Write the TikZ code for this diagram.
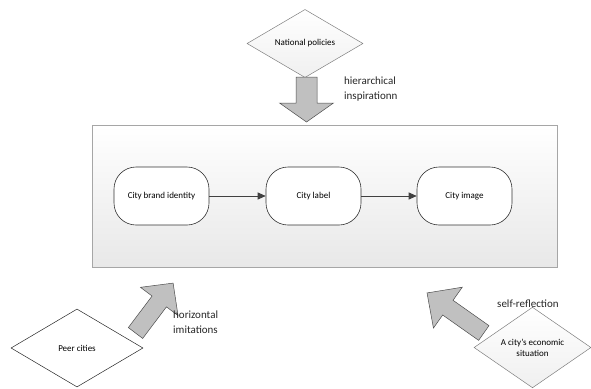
\documentclass[tikz,border=0pt]{standalone}
\usepackage{fontspec}
\setmainfont{Carlito}
\usetikzlibrary{shapes.geometric,arrows.meta}

\definecolor{edgegray}{HTML}{7F7F7F}
\definecolor{arrowfill}{HTML}{C0C0C0}
\definecolor{linkgray}{HTML}{404040}

\tikzset{
  stagebox/.style={draw=black!80, line width=0.6pt, fill=white,
    rounded corners=22pt, minimum width=95pt, minimum height=58pt,
    inner sep=0pt, font=\fontsize{9}{11}\selectfont},
  source/.style={diamond, draw=edgegray, line width=0.5pt,
    top color=white, bottom color=black!6, inner sep=0pt,
    align=center, font=\fontsize{9}{11}\selectfont},
  link/.style={draw=linkgray, line width=0.9pt,
    -{Triangle[length=8pt,width=7pt]}},
  influence/.style={draw=black!70, line width=0.5pt, fill=arrowfill, line join=miter},
  note/.style={align=left, anchor=west, inner sep=0pt,
    font=\fontsize{11}{15}\selectfont, text=black!85},
}

% block arrow along local +x: #1 length, #2 shaft half width, #3 head half width, #4 head length
\newcommand\blockarrowshape[4]{%
  (0,-#2) -- ({#1-#4},-#2) -- ({#1-#4},-#3) -- (#1,0) -- ({#1-#4},#3)
  -- ({#1-#4},#2) -- (0,#2) -- cycle}

\begin{document}
\begin{tikzpicture}[x=1pt,y=-1pt]
  \useasboundingbox (0,0) rectangle (591,388);

  % framing box around the three stages
  \node[draw=black!35, line width=0.6pt, top color=white, bottom color=black!9,
        minimum width=465pt, minimum height=142pt, inner sep=0pt]
        (frame) at (324.5,196) {};

  % the three stages
  \node[stagebox] (identity) at (161.5,196) {City brand identity};
  \node[stagebox] (label)    at (313.5,196) {City label};
  \node[stagebox] (image)    at (464.5,196) {City image};
  \draw[link] (identity) -- (label);
  \draw[link] (label) -- (image);

  % outside sources
  \node[source, minimum width=116pt, minimum height=67pt] (policies) at (305,43.5) {National policies};
  \node[source, draw=black!85, minimum width=132pt, minimum height=78pt, top color=white, bottom color=white] (peers) at (77,348) {Peer cities};
  \node[source, minimum width=117pt, minimum height=75pt] (economy) at (532.5,347.5) {A city’s economic\\situation};

  % influence arrows
  \begin{scope}[shift={(306.5,77)}, rotate=-90]
    \draw[influence] \blockarrowshape{45}{10.5}{27}{19};
  \end{scope}
  \begin{scope}[shift={(135.5,333)}, rotate=53]
    \draw[influence] \blockarrowshape{62.5}{9}{23.5}{23};
  \end{scope}
  \begin{scope}[shift={(483.8,333)}, rotate=144.8]
    \draw[influence] \blockarrowshape{69.5}{9}{25}{25.5};
  \end{scope}

  % influence labels
  \node[note] (hier)  at (344,89.5) {hierarchical\\inspirationn};
  \node[note] (horiz) at (173,322.5) {horizontal\\imitations};
  \node[note] (self)  at (497,304) {self-reflection};
\end{tikzpicture}
\end{document}
